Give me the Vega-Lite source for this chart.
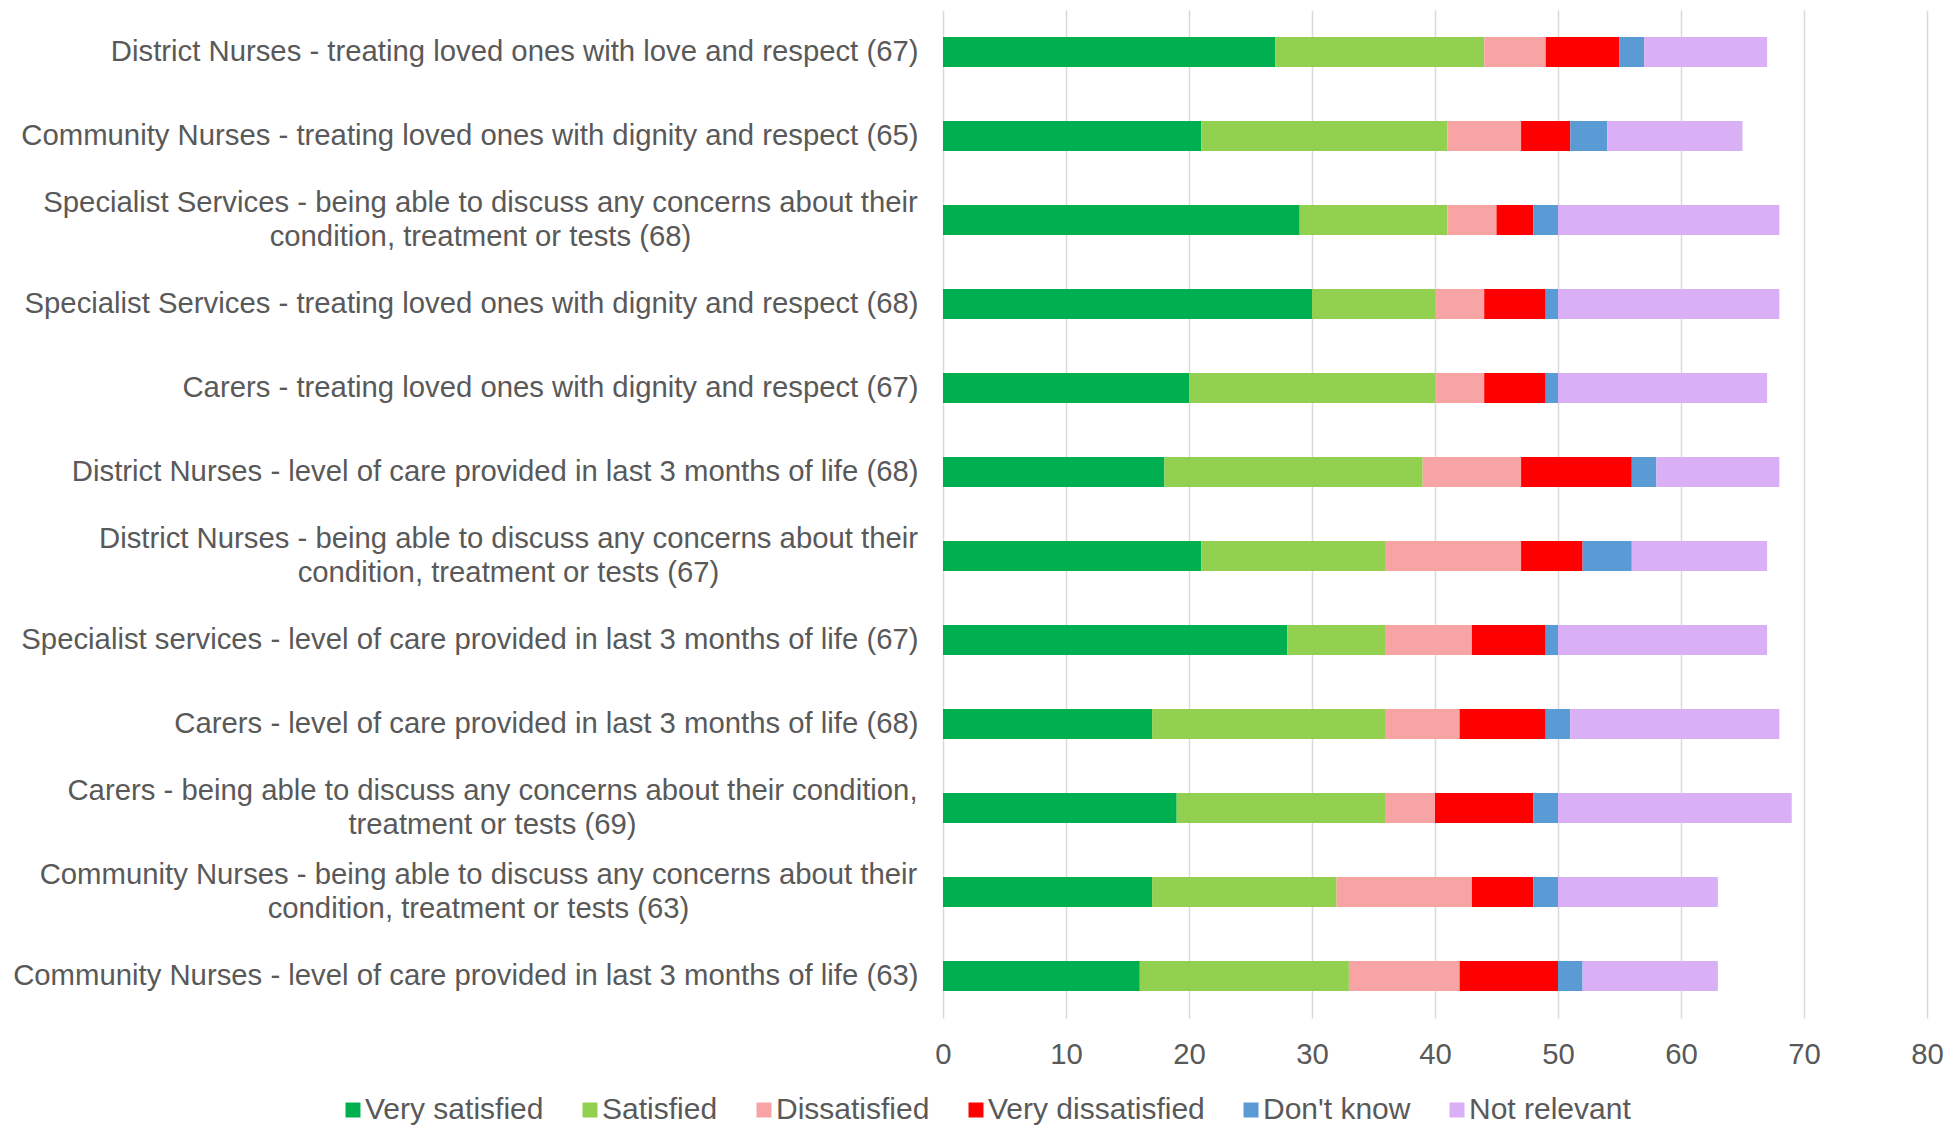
{
  "$schema": "https://vega.github.io/schema/vega-lite/v6.json",
  "autosize": {"type": "none"},
  "padding": {"left": 943, "top": 10, "right": 20, "bottom": 107},
  "width": 984,
  "height": 1008,
  "background": "white",
  "config": {
    "view": {"stroke": null},
    "font": "Liberation Sans",
    "axis": {"labelFont": "Liberation Sans", "labelColor": "#595959", "labelFontSize": 29.3},
    "legend": {"labelFont": "Liberation Sans", "labelColor": "#595959", "labelFontSize": 30}
  },
  "datasets": {
    "wide": [
      {"q": "District Nurses - treating loved ones with love and respect (67)", "v": [27, 17, 5, 6, 2, 10]},
      {"q": "Community Nurses - treating loved ones with dignity and respect (65)", "v": [21, 20, 6, 4, 3, 11]},
      {"q": "Specialist Services - being able to discuss any concerns about their|condition, treatment or tests (68)", "v": [29, 12, 4, 3, 2, 18]},
      {"q": "Specialist Services - treating loved ones with dignity and respect (68)", "v": [30, 10, 4, 5, 1, 18]},
      {"q": "Carers - treating loved ones with dignity and respect (67)", "v": [20, 20, 4, 5, 1, 17]},
      {"q": "District Nurses - level of care provided in last 3 months of life (68)", "v": [18, 21, 8, 9, 2, 10]},
      {"q": "District Nurses - being able to discuss any concerns about their|condition, treatment or tests (67)", "v": [21, 15, 11, 5, 4, 11]},
      {"q": "Specialist services - level of care provided in last 3 months of life (67)", "v": [28, 8, 7, 6, 1, 17]},
      {"q": "Carers - level of care provided in last 3 months of life (68)", "v": [17, 19, 6, 7, 2, 17]},
      {"q": "Carers - being able to discuss any concerns about their condition,|treatment or tests (69)", "v": [19, 17, 4, 8, 2, 19]},
      {"q": "Community Nurses - being able to discuss any concerns about their|condition, treatment or tests (63)", "v": [17, 15, 11, 5, 2, 13]},
      {"q": "Community Nurses - level of care provided in last 3 months of life (63)", "v": [16, 17, 9, 8, 2, 11]}
    ]
  },
  "data": {"name": "wide"},
  "transform": [
    {"calculate": "['Very satisfied','Satisfied','Dissatisfied','Very dissatisfied','Don\\'t know','Not relevant']", "as": "cats"},
    {"calculate": "[0,1,2,3,4,5]", "as": "idx"},
    {"flatten": ["v", "cats", "idx"], "as": ["n", "cat", "ord"]}
  ],
  "mark": {"type": "bar"},
  "encoding": {
    "y": {
      "field": "q", "type": "nominal", "sort": null, "title": null,
      "scale": {"paddingInner": 0.643, "paddingOuter": 0.3215},
      "axis": {
        "ticks": false, "domain": false, "labelLimit": 1200,
        "labelLineHeight": 33.5,
        "labelExpr": "split(datum.label, '|')",
        "labelAlign": {"condition": {"test": "indexof(datum.value, '|') >= 0", "value": "center"}, "value": "right"},
        "labelOffset": {"condition": {"test": "indexof(datum.value, '|') >= 0", "value": -16.75}, "value": 0},
        "labelPadding": {"condition": [
          {"test": "indexof(datum.value, 'Specialist Services - being') == 0", "value": 463},
          {"test": "indexof(datum.value, 'District Nurses - being') == 0", "value": 435},
          {"test": "indexof(datum.value, 'Carers - being') == 0", "value": 451},
          {"test": "indexof(datum.value, 'Community Nurses - being') == 0", "value": 465}
        ], "value": 25}
      }
    },
    "x": {
      "field": "n", "type": "quantitative", "stack": "zero", "title": null,
      "scale": {"domain": [0, 80], "nice": false},
      "axis": {"values": [0,10,20,30,40,50,60,70,80], "ticks": false, "domain": false, "labelPadding": 22, "gridColor": "#D9D9D9", "gridWidth": 1.5, "labelFlush": false}
    },
    "color": {
      "field": "cat", "type": "nominal", "title": null,
      "scale": {
        "domain": ["Very satisfied", "Satisfied", "Dissatisfied", "Very dissatisfied", "Don't know", "Not relevant"],
        "range": ["#00B050", "#92D050", "#F8A4A4", "#FF0000", "#5B9BD5", "#D9AFF5"]
      },
      "legend": {
        "orient": "none", "direction": "horizontal", "legendX": -605, "legendY": 1085,
        "symbolType": "square", "symbolSize": 225, "symbolStrokeWidth": 0, "labelOffset": -3, "columnPadding": 31, "labelLimit": 500
      }
    },
    "order": {"field": "ord", "type": "quantitative"}
  }
}
